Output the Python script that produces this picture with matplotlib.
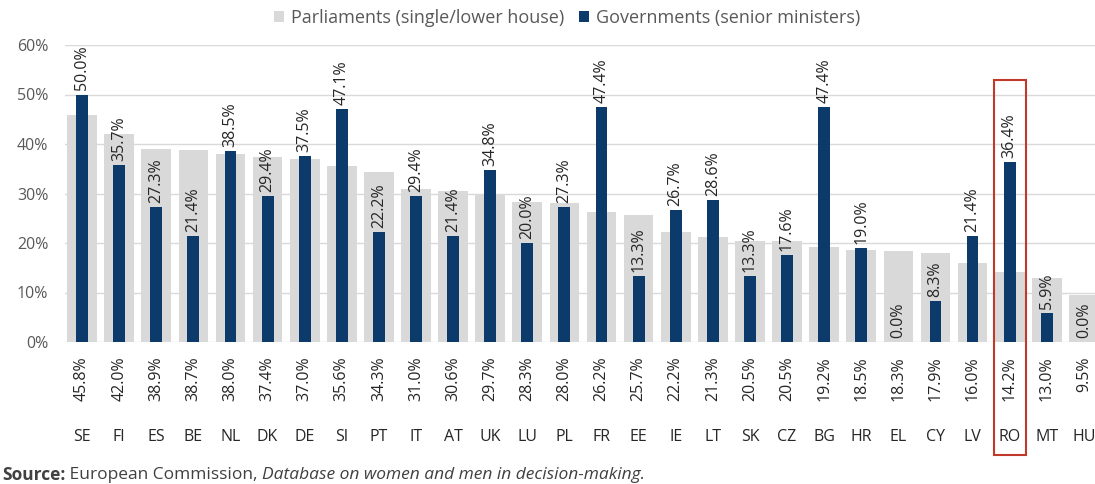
import matplotlib
matplotlib.use('Agg')
import matplotlib.pyplot as plt
from matplotlib.patches import Rectangle

countries = ['SE', 'FI', 'ES', 'BE', 'NL', 'DK', 'DE', 'SI', 'PT', 'IT', 'AT', 'UK', 'LU', 'PL',
             'FR', 'EE', 'IE', 'LT', 'SK', 'CZ', 'BG', 'HR', 'EL', 'CY', 'LV', 'RO', 'MT', 'HU']
parliaments = [45.8, 42.0, 38.9, 38.7, 38.0, 37.4, 37.0, 35.6, 34.3, 31.0, 30.6, 29.7, 28.3, 28.0,
               26.2, 25.7, 22.2, 21.3, 20.5, 20.5, 19.2, 18.5, 18.3, 17.9, 16.0, 14.2, 13.0, 9.5]
governments = [50.0, 35.7, 27.3, 21.4, 38.5, 29.4, 37.5, 47.1, 22.2, 29.4, 21.4, 34.8, 20.0, 27.3,
               47.4, 13.3, 26.7, 28.6, 13.3, 17.6, 47.4, 19.0, 0.0, 8.3, 21.4, 36.4, 5.9, 0.0]
highlight = 'RO'

plt.rcParams['font.family'] = ['Open Sans', 'DejaVu Sans']
grey = '#d9d9d9'
navy = '#0c3a6b'

fig = plt.figure(figsize=(10.95, 4.84), dpi=100)
ax = fig.add_axes([65 / 1095, 1 - 342 / 484, 1030 / 1095, 297 / 484])

x = list(range(len(countries)))
ax.bar(x, parliaments, width=0.8, color=grey, label='Parliaments (single/lower house)', zorder=2)
ax.bar(x, governments, width=0.32, color=navy, label='Governments (senior ministers)', zorder=3)

ax.set_xlim(-0.46, len(countries) - 0.7)
ax.set_ylim(0, 60)
ax.set_yticks(range(0, 61, 10))
ax.set_yticklabels([f'{v}%' for v in range(0, 61, 10)], color='#595959', fontsize=11.5)
ax.yaxis.grid(True, color='#d9d9d9', linewidth=1, zorder=0)
ax.set_axisbelow(True)
ax.tick_params(axis='y', length=0, pad=12)
ax.set_xticks([])
for s in ax.spines.values():
    s.set_visible(False)

for i, (c, p, g) in enumerate(zip(countries, parliaments, governments)):
    ax.annotate(f'{g:.1f}%', (i, g), xytext=(0, 3), textcoords='offset points',
                rotation=90, ha='center', va='bottom', fontsize=11.5, color='#262626', zorder=4)
    ax.text(i, -3.0, f'{p:.1f}%', rotation=90, ha='center', va='top',
            fontsize=11.5, color='#262626', clip_on=False)
    ax.text(i, -19.2, c, ha='center', va='center', fontsize=11.5, color='#262626', clip_on=False)

k = countries.index(highlight)
ax.add_patch(Rectangle((k - 0.43, -22.8), 0.86, 52.9 + 22.8, fill=False,
                       edgecolor='#c0392b', linewidth=1.5, clip_on=False, zorder=5))

fig.legend(loc='center', bbox_to_anchor=(567 / 1095, 1 - 18 / 484), ncol=2, frameon=False,
           fontsize=13, handlelength=0.55, handleheight=0.55, handletextpad=0.4,
           columnspacing=0.8, labelcolor='#595959')

# source line built from pieces
fig.canvas.draw()
r = fig.canvas.get_renderer()
xpos = 2 / 1095
for s, kw in [('Source:', {'fontweight': 'bold'}), (' European Commission, ', {}),
              ('Database on women and men in decision-making.', {'fontstyle': 'italic'})]:
    t = fig.text(xpos, 1 - 475 / 484, s, fontsize=12.5, color='#404040', va='center', **kw)
    bb = t.get_window_extent(renderer=r)
    xpos += bb.width / fig.bbox.width

fig.savefig('out.png', dpi=100)
